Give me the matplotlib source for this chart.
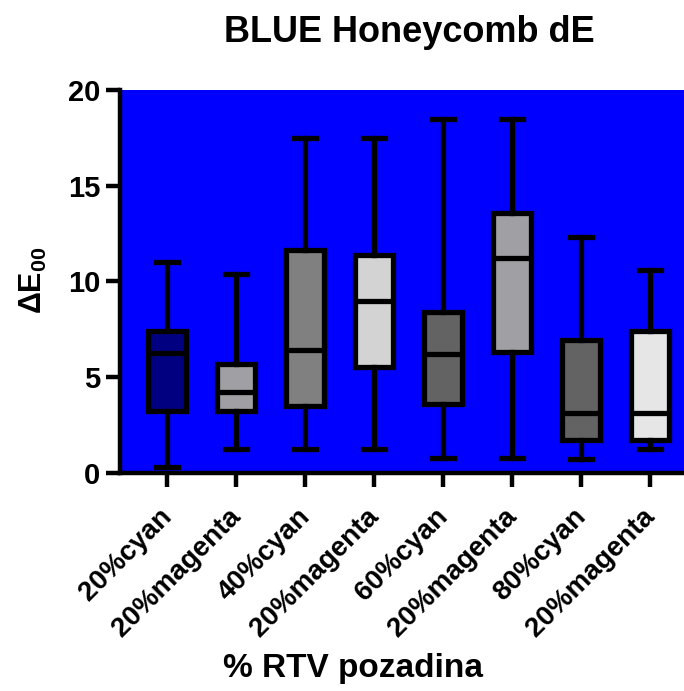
import matplotlib
matplotlib.use("Agg")
import matplotlib.pyplot as plt
from matplotlib.transforms import ScaledTranslation

plt.rcParams['font.family'] = ['Liberation Sans', 'DejaVu Sans']
plt.rcParams['font.weight'] = 'bold'
plt.rcParams['mathtext.fontset'] = 'custom'
plt.rcParams['mathtext.bf'] = 'Liberation Sans:bold'
plt.rcParams['mathtext.rm'] = 'Liberation Sans:bold'
plt.rcParams['mathtext.default'] = 'bf'

# Box statistics per background group
groups = ['20%cyan', '20%magenta', '40%cyan', '20%magenta',
          '60%cyan', '20%magenta', '80%cyan', '20%magenta']
whis_low = [0.3, 1.25, 1.25, 1.25, 0.8, 0.8, 0.75, 1.25]
q1 = [3.25, 3.25, 3.5, 5.55, 3.6, 6.3, 1.7, 1.7]
median = [6.25, 4.25, 6.4, 9.0, 6.2, 11.2, 3.15, 3.15]
q3 = [7.4, 5.7, 11.65, 11.4, 8.4, 13.6, 6.95, 7.4]
whis_high = [11.0, 10.4, 17.5, 17.5, 18.5, 18.5, 12.3, 10.6]
fills = ['#000080', '#a0a0a4', '#808080', '#d3d3d3',
         '#636363', '#a0a0a4', '#636363', '#e6e6e6']

stats = []
for i in range(len(groups)):
    stats.append({'whislo': whis_low[i], 'q1': q1[i], 'med': median[i],
                  'q3': q3[i], 'whishi': whis_high[i], 'fliers': []})

fig = plt.figure(figsize=(6.84, 6.91), dpi=100)
ax = fig.add_axes([0.1754, 0.3155, 0.845, 0.5543])
ax.set_facecolor('#0000ff')

lw = 3.8
bp = ax.bxp(stats, positions=range(len(groups)), widths=0.55,
            capwidths=0.32, patch_artist=True, showfliers=False,
            boxprops=dict(linewidth=lw, edgecolor='black'),
            medianprops=dict(linewidth=lw, color='black'),
            whiskerprops=dict(linewidth=lw, color='black'),
            capprops=dict(linewidth=lw, color='black'))
for patch, c in zip(bp['boxes'], fills):
    patch.set_facecolor(c)

ax.set_xlim(-0.68, 7.7)
ax.set_ylim(0, 20)
ax.set_yticks([0, 5, 10, 15, 20])
ax.set_xticks(range(len(groups)))
ax.set_xticklabels(groups, rotation=45, ha='right', rotation_mode='anchor')

for side in ['top', 'right']:
    ax.spines[side].set_visible(False)
for side in ['left', 'bottom']:
    ax.spines[side].set_linewidth(3.2)
ax.tick_params(axis='both', length=10, width=3.2, labelsize=21, pad=4)
ax.tick_params(axis='x', labelsize=20)

# nudge the rotated group labels down and slightly left
shift = ScaledTranslation(-0.08, -0.11, fig.dpi_scale_trans)
for lbl in ax.get_xticklabels():
    lbl.set_transform(lbl.get_transform() + shift)

fig.text(409 / 684, 1 - 33 / 691, 'BLUE Honeycomb dE', ha='center',
         va='center', fontsize=26, fontweight='bold')
fig.text(33 / 684, 1 - 280 / 691, r'ΔE$_{00}$', rotation=90, ha='center',
         va='center', fontsize=22, fontweight='bold')
fig.text(353 / 684, 1 - 669 / 691, '% RTV pozadina', ha='center',
         va='center', fontsize=24, fontweight='bold')

fig.savefig('out.png', dpi=100)
